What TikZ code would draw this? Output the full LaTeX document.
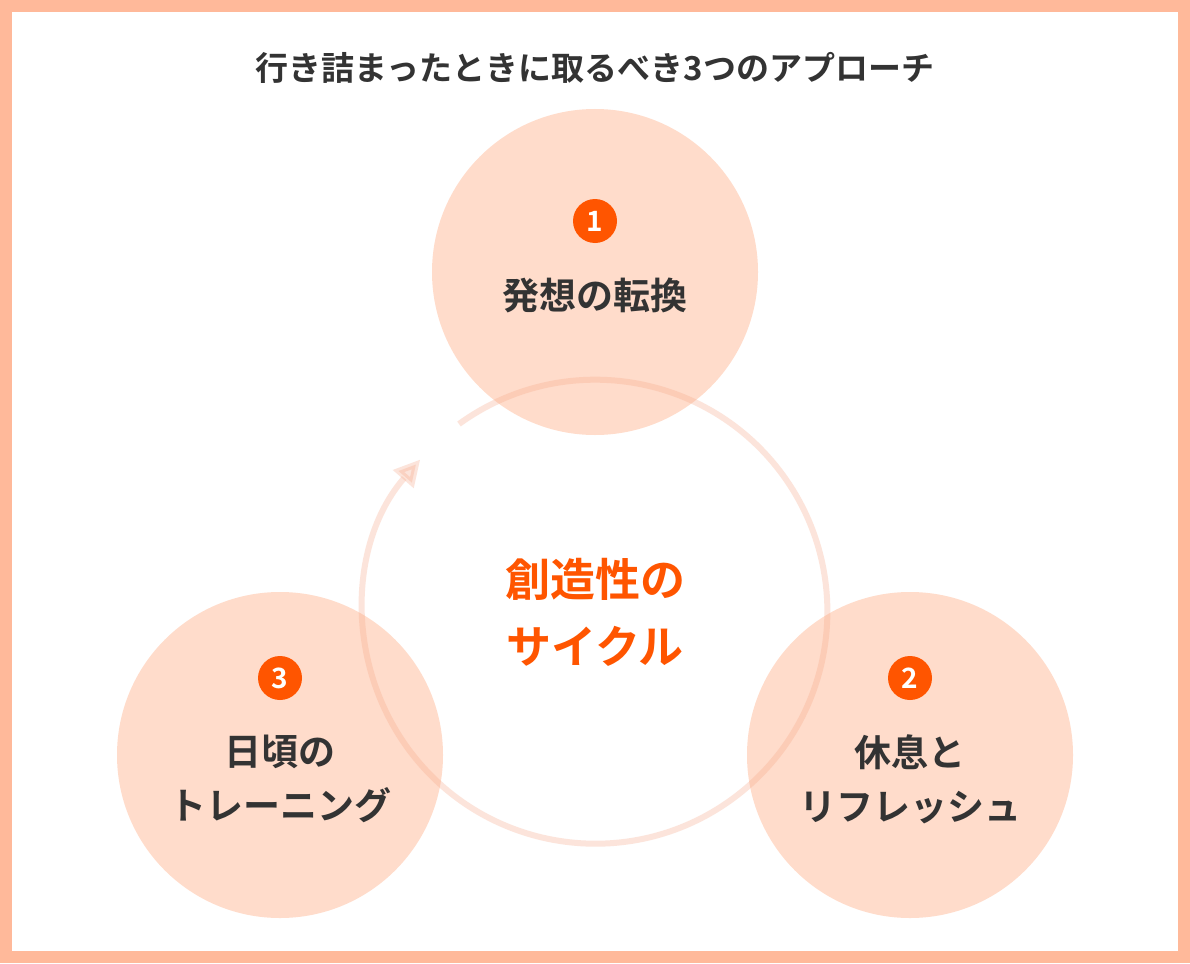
\documentclass[tikz,border=0pt]{standalone}
\usepackage{fontspec}
\newfontfamily\jp{Noto Sans CJK JP Bold}
\usetikzlibrary{arrows.meta}
\definecolor{frame}{HTML}{FFB99A}
\definecolor{bub}{HTML}{FFDCCB}
\definecolor{ringc}{HTML}{F6A888}
\definecolor{accent}{HTML}{FF5500}
\definecolor{ink}{HTML}{333333}
\tikzset{
  bubble/.style={circle,fill=bub,minimum size=326pt,inner sep=0pt},
  badge/.style={circle,fill=accent,minimum size=44pt,inner sep=0pt,text=white,font=\jp\fontsize{28}{28}\selectfont},
  lbl/.style={text=ink,align=center,font=\jp\fontsize{37}{54}\selectfont},
}
\begin{document}
\begin{tikzpicture}[x=1pt,y=-1pt]
\fill[frame] (0,0) rectangle (1190,963);
\fill[white] (12,12) rectangle (1178,951);
\useasboundingbox (0,0) rectangle (1190,963);
\node[text=ink,font=\jp\fontsize{33}{33}\selectfont] (title) at (595,68) {行き詰まったときに取るべき3つのアプローチ};
\node[bubble] (c1) at (595,272) {};
\node[bubble] (c2) at (910,755) {};
\node[bubble] (c3) at (280,755) {};
\draw[ringc,opacity=0.3,line width=6pt,-{Triangle[length=26pt,width=26pt]}] (459,424) arc[start angle=234,end angle=581,radius=232];
\node[badge] (b1) at (595,221) {1};
\node[lbl] (t1) at (595,295) {発想の転換};
\node[badge] (b2) at (910,678) {2};
\node[lbl] (t2) at (910,779) {休息と\\リフレッシュ};
\node[badge] (b3) at (280,678) {3};
\node[lbl] (t3) at (280,779) {日頃の\\トレーニング};
\node[text=accent,align=center,font=\jp\fontsize{45}{67}\selectfont] (center) at (595,612) {創造性の\\サイクル};
\end{tikzpicture}
\end{document}
